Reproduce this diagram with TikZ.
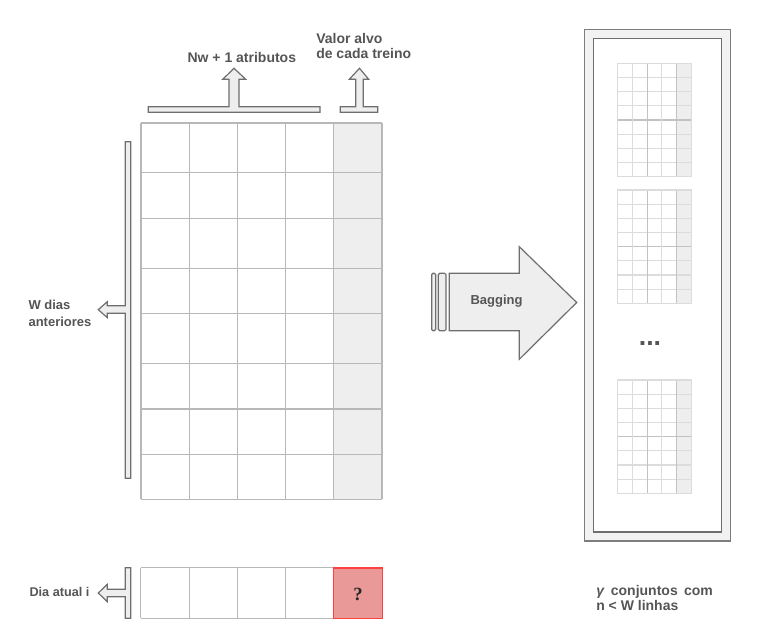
\documentclass[tikz,border=0pt]{standalone}
\usepackage{fontspec}
\setmainfont{Liberation Sans}
\newfontfamily\qserif{Liberation Serif}
\definecolor{txt}{HTML}{555555}
\definecolor{gridc}{HTML}{B8B8B8}
\definecolor{shadecol}{HTML}{EEEEEE}
\definecolor{arrowline}{HTML}{6E6E6E}
\definecolor{panelfill}{HTML}{F2F2F2}
\definecolor{minilight}{HTML}{DCDCDC}
\definecolor{minidark}{HTML}{C2C2C2}
\definecolor{redfill}{HTML}{EA9999}
\definecolor{redline}{HTML}{FF4040}
\newcommand{\lblsize}[1]{\bfseries\fontsize{#1}{#1}\selectfont}
\begin{document}
\begin{tikzpicture}[x=0.75pt,y=-0.75pt,
  lbl/.style={text=txt, inner sep=0pt, anchor=base west, font=\lblsize{10.5pt}},
  blockarrow/.style={fill=shadecol, draw=arrowline, line width=0.9pt, line join=miter},
  gridline/.style={draw=gridc, line width=1pt}]
\useasboundingbox (0,0) rectangle (779,638);

% ---------------- main grid ----------------
\fill[shadecol] (333.8,123) rectangle (382,499.3);
\foreach \xx in {141,189.2,237.4,285.6,333.8,382}
  \draw[gridline] (\xx,123) -- (\xx,499.3);
\foreach \yy in {123,172.7,218.7,268.3,313.7,363.7,409,454.3,499.3}
  \draw[gridline] (141,\yy) -- (382,\yy);

% ---------------- bottom row ----------------
\fill[redfill] (333.6,567.7) rectangle (382.4,618.3);
\foreach \xx in {140.5,189.3,237.7,285.7}
  \draw[gridline] (\xx,567.7) -- (\xx,618.3);
\draw[gridline] (140.5,567.7) -- (333.6,567.7);
\draw[gridline] (140.5,618.3) -- (333.6,618.3);
\draw[draw=redline, line width=1.2pt] (333.6,567.7) rectangle (382.4,618.3);
\node[inner sep=0pt, font=\qserif\bfseries\fontsize{14pt}{14pt}\selectfont, text=black!85] (q) at (358,594) {?};

% ---------------- top T arrows ----------------
\draw[blockarrow] (148.3,112.3) -- (320,112.3) -- (320,106.7) -- (239,106.7) -- (239,79.3)
  -- (245.7,79.3) -- (234,68.3) -- (222.7,79.3) -- (229,79.3) -- (229,106.7) -- (148.3,106.7) -- cycle;
\draw[blockarrow] (340.3,112.3) -- (377.7,112.3) -- (377.7,106.7) -- (363.3,106.7) -- (363.3,79.3)
  -- (368.7,79.3) -- (359.5,68.3) -- (349.3,79.3) -- (355.7,79.3) -- (355.7,106.7) -- (340.3,106.7) -- cycle;

% ---------------- left T arrows ----------------
\draw[blockarrow] (130.7,141.7) -- (130.7,478.3) -- (125.3,478.3) -- (125.3,313.3) -- (107.3,313.3)
  -- (107.3,317.7) -- (98.3,309.7) -- (107.3,301.7) -- (107.3,305.7) -- (125.3,305.7) -- (125.3,141.7) -- cycle;
\draw[blockarrow] (130.7,567.7) -- (130.7,618.3) -- (125.3,618.3) -- (125.3,596.7) -- (107.3,596.7)
  -- (107.3,601.7) -- (98.3,593) -- (107.3,584.3) -- (107.3,589.3) -- (125.3,589.3) -- (125.3,567.7) -- cycle;

% ---------------- bagging arrow ----------------
\draw[blockarrow, rounded corners=1pt] (431.7,273.3) rectangle (435.7,330.7);
\draw[blockarrow, rounded corners=1pt] (438.3,273.3) rectangle (446,330.7);
\draw[blockarrow] (449.3,273.3) -- (519.3,273.3) -- (519.3,246.7) -- (576.7,302.5)
  -- (519.3,359.3) -- (519.3,330.7) -- (449.3,330.7) -- cycle;
\node[text=txt, inner sep=0pt, anchor=base, font=\lblsize{9.75pt}] (bag) at (496.5,304.7) {Bagging};

% ---------------- right panel ----------------
\draw[fill=panelfill, draw=arrowline!90, line width=1.1pt] (584.3,29.3) rectangle (730.3,541);
\draw[fill=white, draw=arrowline, line width=1.1pt] (593.3,38.3) rectangle (721.7,532);
\foreach \oy in {63.3,190,380}{
  \fill[shadecol] (676.8,\oy) rectangle (691.7,\oy+113.4);
  \foreach \k in {1,2,3,5,6,7}
    \draw[minilight, line width=0.8pt] (617.3,\oy+\k*14.17) -- (691.7,\oy+\k*14.17);
  \draw[minidark, line width=0.8pt] (617.3,\oy+4*14.17) -- (691.7,\oy+4*14.17);
  \foreach \xx in {632.2,661.9}
    \draw[minilight, line width=0.8pt] (\xx,\oy) -- (\xx,\oy+113.4);
  \foreach \xx in {647.1,676.8}
    \draw[minidark, line width=0.8pt] (\xx,\oy) -- (\xx,\oy+113.4);
  \draw[minilight, line width=0.8pt] (617.3,\oy) rectangle (691.7,\oy+113.4);
}
\node[text=txt, inner sep=0pt, anchor=base, font=\lblsize{20pt}] (dots) at (650,345.5) {...};

% ---------------- labels ----------------
\node[lbl] (nw) at (187.3,63) {Nw + 1 atributos};
\node[lbl] (va1) at (316,43.3) {Valor alvo};
\node[lbl] (va2) at (316,58.3) {de cada treino};
\node[lbl, font=\lblsize{9.75pt}] (wd1) at (28.3,310) {W dias};
\node[lbl, font=\lblsize{9.75pt}] (wd2) at (28.3,326) {anteriores};
\node[lbl, font=\lblsize{9.5pt}] (dia) at (29.3,596.7) {Dia atual i};
\node[lbl, font=\lblsize{10.5pt}] (gam1) at (596,595.3) {\textit{γ}\, conjuntos\, com};
\node[lbl, font=\lblsize{10.5pt}] (gam2) at (596,610.7) {n < W linhas};
\end{tikzpicture}
\end{document}
